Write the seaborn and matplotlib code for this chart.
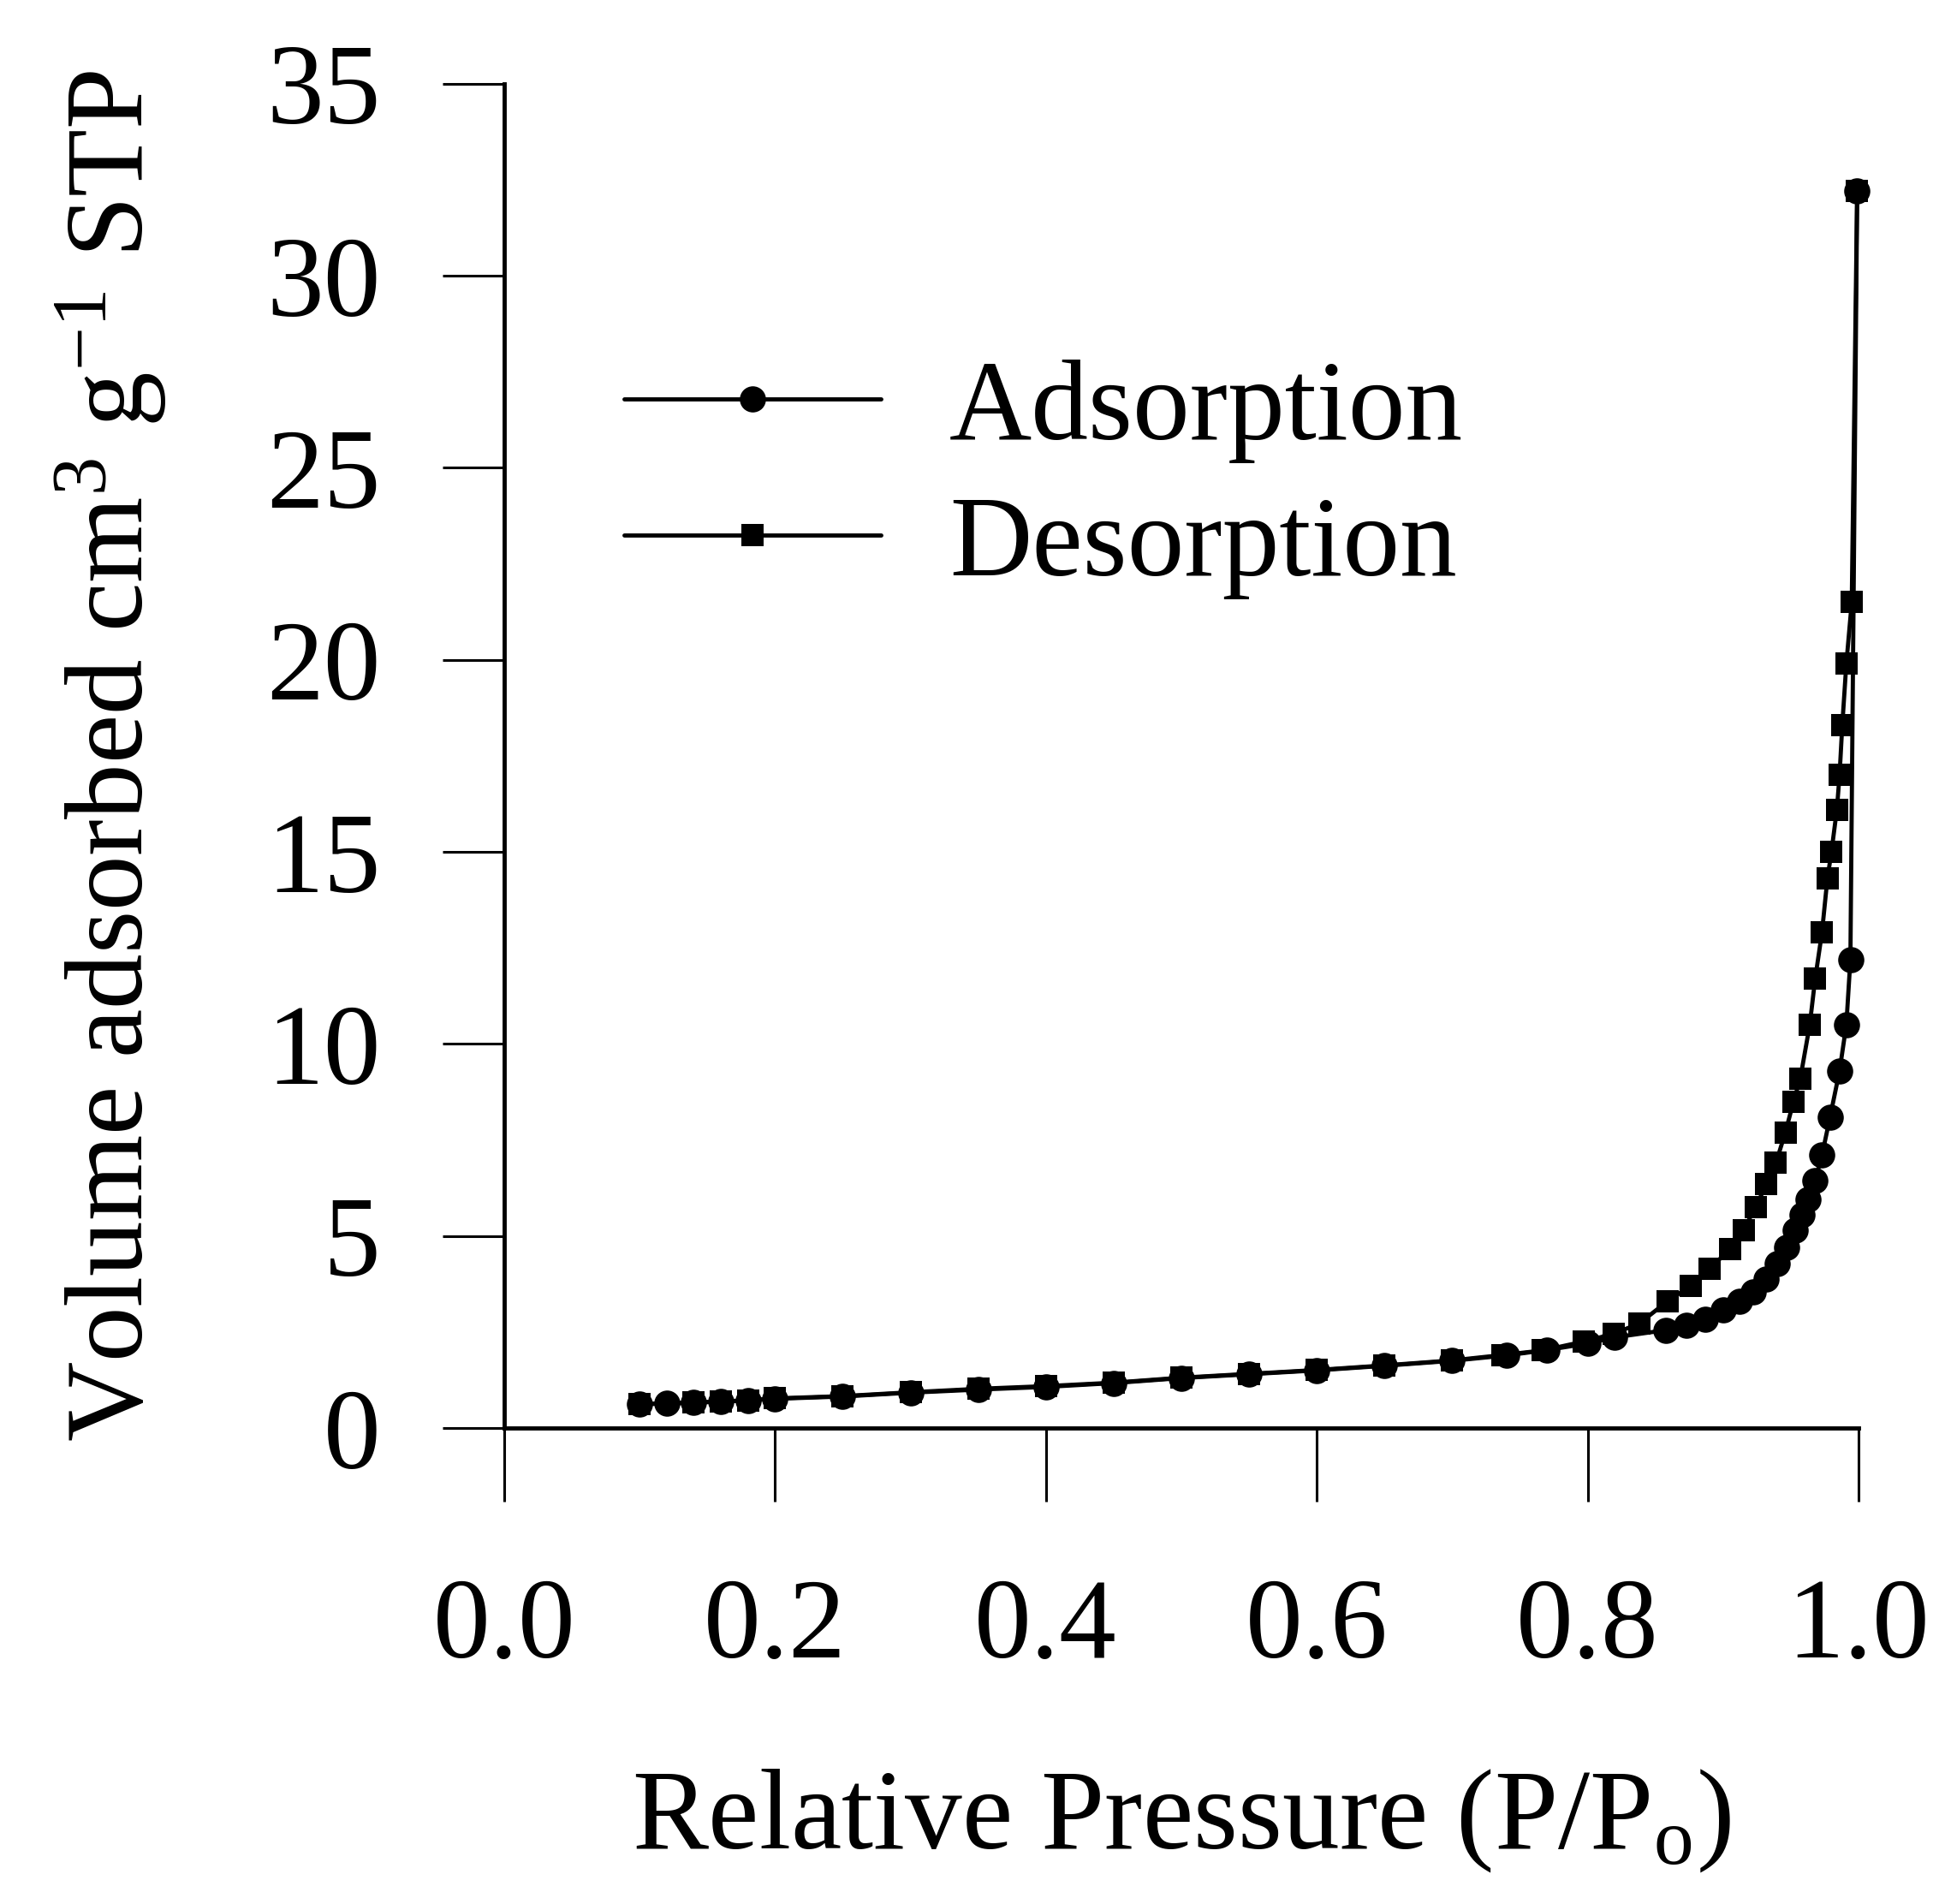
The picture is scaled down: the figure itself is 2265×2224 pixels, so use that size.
import matplotlib
matplotlib.use("Agg")
import matplotlib.pyplot as plt
import seaborn as sns
import pandas as pd

# ---- data ----
ads_x = [0.10, 0.12, 0.14, 0.16, 0.18, 0.20, 0.25, 0.30, 0.35, 0.40, 0.45,
         0.50, 0.55, 0.60, 0.65, 0.70, 0.74, 0.77, 0.80, 0.82, 0.858, 0.873,
         0.887, 0.900, 0.912, 0.922, 0.932, 0.940, 0.947, 0.953, 0.958, 0.963,
         0.968, 0.973, 0.979, 0.986, 0.991, 0.994, 0.999]
ads_y = [0.62, 0.64, 0.66, 0.69, 0.72, 0.76, 0.82, 0.92, 1.00, 1.07, 1.17,
         1.30, 1.40, 1.50, 1.62, 1.75, 1.89, 2.03, 2.20, 2.36, 2.55, 2.67,
         2.82, 3.07, 3.30, 3.55, 3.88, 4.28, 4.70, 5.15, 5.55, 5.95,
         6.45, 7.10, 8.10, 9.30, 10.5, 12.2, 32.2]

des_x = [0.999, 0.995, 0.991, 0.988, 0.986, 0.984, 0.980, 0.977, 0.973, 0.968,
         0.964, 0.957, 0.952, 0.946, 0.939, 0.932, 0.924, 0.915, 0.905, 0.890,
         0.876, 0.859, 0.838, 0.819, 0.797, 0.767, 0.737, 0.70, 0.65, 0.60,
         0.55, 0.50, 0.45, 0.40, 0.35, 0.30, 0.25, 0.20, 0.18, 0.16, 0.14, 0.10]
des_y = [32.2, 21.5, 19.9, 18.3, 17.0, 16.1, 15.0, 14.3, 12.9, 11.7,
         10.5, 9.1, 8.5, 7.7, 6.9, 6.35, 5.75, 5.15, 4.65, 4.15,
         3.70, 3.30, 2.72, 2.45, 2.25, 2.02, 1.90, 1.76, 1.63, 1.51,
         1.41, 1.31, 1.18, 1.09, 1.02, 0.93, 0.83, 0.77, 0.72, 0.69, 0.66, 0.62]

x_ticks = [0.0, 0.2, 0.4, 0.6, 0.8, 1.0]
x_ticklabels = ["0.0", "0.2", "0.4", "0.6", "0.8", "1.0"]
y_ticks = [0, 5, 10, 15, 20, 25, 30, 35]
series_names = ["Adsorption", "Desorption"]

ads = pd.DataFrame({"x": ads_x, "y": ads_y})
des = pd.DataFrame({"x": des_x, "y": des_y})

sns.set_theme(style="ticks")
plt.rcParams["font.family"] = ["Liberation Serif", "DejaVu Serif"]
plt.rcParams["mathtext.fontset"] = "custom"
plt.rcParams["mathtext.rm"] = "Liberation Serif"
plt.rcParams["mathtext.it"] = "Liberation Serif:italic"
plt.rcParams["mathtext.bf"] = "Liberation Serif:bold"
plt.rcParams["text.color"] = "black"
plt.rcParams["axes.labelcolor"] = "black"
plt.rcParams["xtick.color"] = "black"
plt.rcParams["ytick.color"] = "black"
plt.rcParams["xtick.labelcolor"] = "black"
plt.rcParams["ytick.labelcolor"] = "black"

FS = 96
fig = plt.figure(figsize=(22.65, 22.24), dpi=100)
ax = fig.add_axes([0.260, 0.250, 0.6985, 0.706])

sns.lineplot(data=ads, x="x", y="y", ax=ax, color="black", marker="o",
             markersize=22, markeredgewidth=0, linewidth=3.5, sort=False,
             estimator=None, label=series_names[0], clip_on=False)
sns.lineplot(data=des, x="x", y="y", ax=ax, color="black", marker="s",
             markersize=19, markeredgewidth=0, linewidth=3.5, sort=False,
             estimator=None, label=series_names[1], clip_on=False)

ax.set_xlim(0, 1.0)
ax.set_ylim(0, 35)
ax.set_xticks(x_ticks)
ax.set_xticklabels(x_ticklabels)
ax.set_yticks(y_ticks)

for s in ["top", "right"]:
    ax.spines[s].set_visible(False)
for s in ["left", "bottom"]:
    ax.spines[s].set_linewidth(3.5)
    ax.spines[s].set_color("black")

ax.tick_params(axis="x", direction="out", length=62, width=2.2, pad=64,
               labelsize=FS, colors="black")
ax.tick_params(axis="y", direction="out", length=52, width=2.2, pad=52,
               labelsize=FS, colors="black")

ax.set_xlabel(r"Relative Pressure (P/P$_{\mathrm{o}}$)", fontsize=FS,
              labelpad=72, color="black")
ax.set_ylabel(r"Volume adsorbed cm$^{3}$ g$^{-1}$ STP", fontsize=93,
              labelpad=82, color="black")

leg = ax.legend(loc="upper left", bbox_to_anchor=(0.0885, 0.795), frameon=False,
                fontsize=FS, handlelength=2.25, handletextpad=0.6,
                labelspacing=0.28, borderpad=0, borderaxespad=0, markerscale=1.0)
for h in leg.legend_handles:
    h.set_linewidth(3.5)
for t in leg.get_texts():
    t.set_color("black")

fig.savefig("out.png", dpi=100, facecolor="white")
